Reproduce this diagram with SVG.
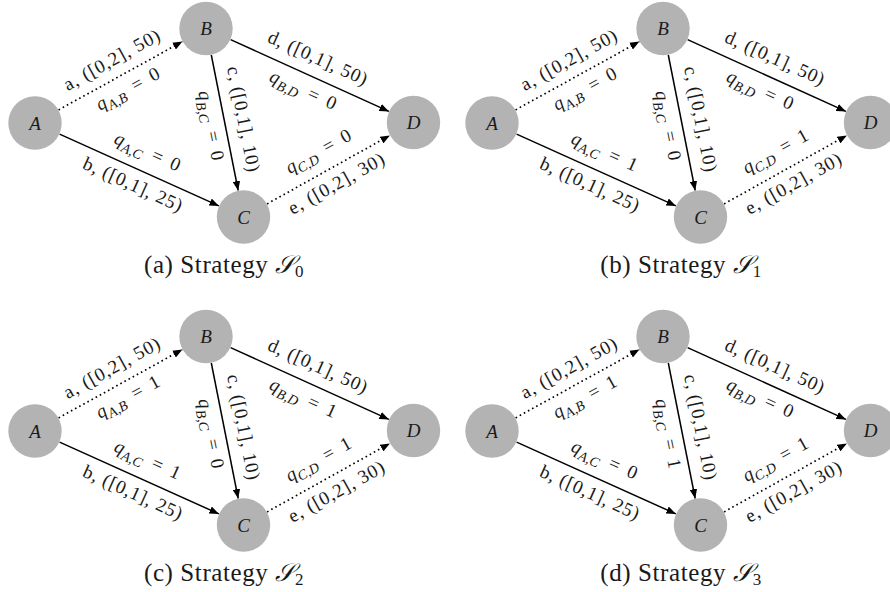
<svg xmlns="http://www.w3.org/2000/svg" width="890" height="592" viewBox="0 0 890 592">
<style>
.node{fill:#b3b3b3;stroke:none}
.nl{font-family:"Liberation Serif",serif;font-style:italic;font-size:19px;text-anchor:middle;fill:#1a1a1a}
.lbl{font-family:"Liberation Serif",serif;font-size:19px;text-anchor:middle;fill:#1a1a1a}
.it{font-style:italic}
.sub{font-size:14px;font-style:italic}
.solid{stroke:#000;stroke-width:1.5;fill:none;marker-end:url(#arr)}
.dot{stroke:#000;stroke-width:1.7;fill:none;stroke-dasharray:1.6 3.1;marker-end:url(#arr)}
.cap{font-family:"Liberation Serif",serif;font-size:25px;text-anchor:middle;fill:#1a1a1a;letter-spacing:0.6px}
.cal{font-family:"DejaVu Serif","DejaVu Sans","Noto Sans",serif;font-style:italic}
.cs{font-size:17px}
</style>
<defs>
<marker id="arr" markerUnits="userSpaceOnUse" viewBox="0 0 10 8" markerWidth="10" markerHeight="8" refX="9.5" refY="4" orient="auto"><path d="M0,0.2 L9.5,4 L0,7.8 z" fill="#000"/></marker>
</defs>

<!-- Panel (a) -->
<g id="panel-a">
<g id="a-connectors">
<path class="dot" d="M58.6,109.9 L182.4,41.6"/>
<path class="solid" d="M59.6,134.1 L218.9,205.9"/>
<path class="solid" d="M211.3,55 L238.2,190.5"/>
<path class="solid" d="M230.6,39.6 L388.9,111.4"/>
<path class="dot" d="M267.1,203.9 L389.9,135.4"/>
<text class="lbl" transform="translate(120.5,75.8) rotate(-28.93)" y="-12" textLength="107" lengthAdjust="spacing">a, ([0,2], 50)</text>
<text class="lbl" transform="translate(120.5,75.8) rotate(-28.93)" y="21"><tspan class="it">q</tspan><tspan class="sub" dx="0.5" dy="4.5">A,B</tspan><tspan dx="9.5" dy="-4.5">=</tspan><tspan dx="9.5">0</tspan></text>
<text class="lbl" transform="translate(139.3,170) rotate(24.27)" y="-14"><tspan class="it">q</tspan><tspan class="sub" dx="0.5" dy="4.5">A,C</tspan><tspan dx="9.5" dy="-4.5">=</tspan><tspan dx="9.5">0</tspan></text>
<text class="lbl" transform="translate(139.3,170) rotate(24.27)" y="22" textLength="107" lengthAdjust="spacing">b, ([0,1], 25)</text>
<text class="lbl" transform="translate(224.8,122.8) rotate(78.75)" y="-13" textLength="107" lengthAdjust="spacing">c, ([0,1], 10)</text>
<text class="lbl" transform="translate(224.8,122.8) rotate(78.75)" y="20"><tspan class="it">q</tspan><tspan class="sub" dx="0.5" dy="4.5">B,C</tspan><tspan dx="9.5" dy="-4.5">=</tspan><tspan dx="9.5">0</tspan></text>
<text class="lbl" transform="translate(309.8,75.5) rotate(24.37)" y="-13" textLength="107" lengthAdjust="spacing">d, ([0,1], 50)</text>
<text class="lbl" transform="translate(309.8,75.5) rotate(24.37)" y="22"><tspan class="it">q</tspan><tspan class="sub" dx="0.5" dy="4.5">B,D</tspan><tspan dx="9.5" dy="-4.5">=</tspan><tspan dx="9.5">0</tspan></text>
<text class="lbl" transform="translate(328.5,169.8) rotate(-29.07)" y="-15"><tspan class="it">q</tspan><tspan class="sub" dx="0.5" dy="4.5">C,D</tspan><tspan dx="9.5" dy="-4.5">=</tspan><tspan dx="9.5">0</tspan></text>
<text class="lbl" transform="translate(328.5,169.8) rotate(-29.07)" y="22" textLength="107" lengthAdjust="spacing">e, ([0,2], 30)</text>
</g>
<g id="a-A"><circle class="node" cx="35" cy="123" r="26.7"/><text class="nl" x="35" y="129.5">A</text></g>
<g id="a-B"><circle class="node" cx="206" cy="28.5" r="26.7"/><text class="nl" x="206" y="35">B</text></g>
<g id="a-C"><circle class="node" cx="243.5" cy="217" r="26.7"/><text class="nl" x="243.5" y="223.5">C</text></g>
<g id="a-D"><circle class="node" cx="413.5" cy="122.5" r="26.7"/><text class="nl" x="413.5" y="129">D</text></g>
<text class="cap" x="224" y="273">(a) Strategy <tspan class="cal">𝒮</tspan><tspan class="cs" dy="4">0</tspan></text>
</g>

<!-- Panel (b) -->
<g id="panel-b" transform="translate(457,0)">
<g id="b-connectors">
<path class="dot" d="M58.6,109.9 L182.4,41.6"/>
<path class="solid" d="M59.6,134.1 L218.9,205.9"/>
<path class="solid" d="M211.3,55 L238.2,190.5"/>
<path class="solid" d="M230.6,39.6 L388.9,111.4"/>
<path class="dot" d="M267.1,203.9 L389.9,135.4"/>
<text class="lbl" transform="translate(120.5,75.8) rotate(-28.93)" y="-12" textLength="107" lengthAdjust="spacing">a, ([0,2], 50)</text>
<text class="lbl" transform="translate(120.5,75.8) rotate(-28.93)" y="21"><tspan class="it">q</tspan><tspan class="sub" dx="0.5" dy="4.5">A,B</tspan><tspan dx="9.5" dy="-4.5">=</tspan><tspan dx="9.5">0</tspan></text>
<text class="lbl" transform="translate(139.3,170) rotate(24.27)" y="-14"><tspan class="it">q</tspan><tspan class="sub" dx="0.5" dy="4.5">A,C</tspan><tspan dx="9.5" dy="-4.5">=</tspan><tspan dx="9.5">1</tspan></text>
<text class="lbl" transform="translate(139.3,170) rotate(24.27)" y="22" textLength="107" lengthAdjust="spacing">b, ([0,1], 25)</text>
<text class="lbl" transform="translate(224.8,122.8) rotate(78.75)" y="-13" textLength="107" lengthAdjust="spacing">c, ([0,1], 10)</text>
<text class="lbl" transform="translate(224.8,122.8) rotate(78.75)" y="20"><tspan class="it">q</tspan><tspan class="sub" dx="0.5" dy="4.5">B,C</tspan><tspan dx="9.5" dy="-4.5">=</tspan><tspan dx="9.5">0</tspan></text>
<text class="lbl" transform="translate(309.8,75.5) rotate(24.37)" y="-13" textLength="107" lengthAdjust="spacing">d, ([0,1], 50)</text>
<text class="lbl" transform="translate(309.8,75.5) rotate(24.37)" y="22"><tspan class="it">q</tspan><tspan class="sub" dx="0.5" dy="4.5">B,D</tspan><tspan dx="9.5" dy="-4.5">=</tspan><tspan dx="9.5">0</tspan></text>
<text class="lbl" transform="translate(328.5,169.8) rotate(-29.07)" y="-15"><tspan class="it">q</tspan><tspan class="sub" dx="0.5" dy="4.5">C,D</tspan><tspan dx="9.5" dy="-4.5">=</tspan><tspan dx="9.5">1</tspan></text>
<text class="lbl" transform="translate(328.5,169.8) rotate(-29.07)" y="22" textLength="107" lengthAdjust="spacing">e, ([0,2], 30)</text>
</g>
<g id="b-A"><circle class="node" cx="35" cy="123" r="26.7"/><text class="nl" x="35" y="129.5">A</text></g>
<g id="b-B"><circle class="node" cx="206" cy="28.5" r="26.7"/><text class="nl" x="206" y="35">B</text></g>
<g id="b-C"><circle class="node" cx="243.5" cy="217" r="26.7"/><text class="nl" x="243.5" y="223.5">C</text></g>
<g id="b-D"><circle class="node" cx="413.5" cy="122.5" r="26.7"/><text class="nl" x="413.5" y="129">D</text></g>
<text class="cap" x="224" y="273">(b) Strategy <tspan class="cal">𝒮</tspan><tspan class="cs" dy="4">1</tspan></text>
</g>

<!-- Panel (c) -->
<g id="panel-c" transform="translate(0,308)">
<g id="c-connectors">
<path class="dot" d="M58.6,109.9 L182.4,41.6"/>
<path class="solid" d="M59.6,134.1 L218.9,205.9"/>
<path class="solid" d="M211.3,55 L238.2,190.5"/>
<path class="solid" d="M230.6,39.6 L388.9,111.4"/>
<path class="dot" d="M267.1,203.9 L389.9,135.4"/>
<text class="lbl" transform="translate(120.5,75.8) rotate(-28.93)" y="-12" textLength="107" lengthAdjust="spacing">a, ([0,2], 50)</text>
<text class="lbl" transform="translate(120.5,75.8) rotate(-28.93)" y="21"><tspan class="it">q</tspan><tspan class="sub" dx="0.5" dy="4.5">A,B</tspan><tspan dx="9.5" dy="-4.5">=</tspan><tspan dx="9.5">1</tspan></text>
<text class="lbl" transform="translate(139.3,170) rotate(24.27)" y="-14"><tspan class="it">q</tspan><tspan class="sub" dx="0.5" dy="4.5">A,C</tspan><tspan dx="9.5" dy="-4.5">=</tspan><tspan dx="9.5">1</tspan></text>
<text class="lbl" transform="translate(139.3,170) rotate(24.27)" y="22" textLength="107" lengthAdjust="spacing">b, ([0,1], 25)</text>
<text class="lbl" transform="translate(224.8,122.8) rotate(78.75)" y="-13" textLength="107" lengthAdjust="spacing">c, ([0,1], 10)</text>
<text class="lbl" transform="translate(224.8,122.8) rotate(78.75)" y="20"><tspan class="it">q</tspan><tspan class="sub" dx="0.5" dy="4.5">B,C</tspan><tspan dx="9.5" dy="-4.5">=</tspan><tspan dx="9.5">0</tspan></text>
<text class="lbl" transform="translate(309.8,75.5) rotate(24.37)" y="-13" textLength="107" lengthAdjust="spacing">d, ([0,1], 50)</text>
<text class="lbl" transform="translate(309.8,75.5) rotate(24.37)" y="22"><tspan class="it">q</tspan><tspan class="sub" dx="0.5" dy="4.5">B,D</tspan><tspan dx="9.5" dy="-4.5">=</tspan><tspan dx="9.5">1</tspan></text>
<text class="lbl" transform="translate(328.5,169.8) rotate(-29.07)" y="-15"><tspan class="it">q</tspan><tspan class="sub" dx="0.5" dy="4.5">C,D</tspan><tspan dx="9.5" dy="-4.5">=</tspan><tspan dx="9.5">1</tspan></text>
<text class="lbl" transform="translate(328.5,169.8) rotate(-29.07)" y="22" textLength="107" lengthAdjust="spacing">e, ([0,2], 30)</text>
</g>
<g id="c-A"><circle class="node" cx="35" cy="123" r="26.7"/><text class="nl" x="35" y="129.5">A</text></g>
<g id="c-B"><circle class="node" cx="206" cy="28.5" r="26.7"/><text class="nl" x="206" y="35">B</text></g>
<g id="c-C"><circle class="node" cx="243.5" cy="217" r="26.7"/><text class="nl" x="243.5" y="223.5">C</text></g>
<g id="c-D"><circle class="node" cx="413.5" cy="122.5" r="26.7"/><text class="nl" x="413.5" y="129">D</text></g>
<text class="cap" x="224" y="273">(c) Strategy <tspan class="cal">𝒮</tspan><tspan class="cs" dy="4">2</tspan></text>
</g>

<!-- Panel (d) -->
<g id="panel-d" transform="translate(457,308)">
<g id="d-connectors">
<path class="dot" d="M58.6,109.9 L182.4,41.6"/>
<path class="solid" d="M59.6,134.1 L218.9,205.9"/>
<path class="solid" d="M211.3,55 L238.2,190.5"/>
<path class="solid" d="M230.6,39.6 L388.9,111.4"/>
<path class="dot" d="M267.1,203.9 L389.9,135.4"/>
<text class="lbl" transform="translate(120.5,75.8) rotate(-28.93)" y="-12" textLength="107" lengthAdjust="spacing">a, ([0,2], 50)</text>
<text class="lbl" transform="translate(120.5,75.8) rotate(-28.93)" y="21"><tspan class="it">q</tspan><tspan class="sub" dx="0.5" dy="4.5">A,B</tspan><tspan dx="9.5" dy="-4.5">=</tspan><tspan dx="9.5">1</tspan></text>
<text class="lbl" transform="translate(139.3,170) rotate(24.27)" y="-14"><tspan class="it">q</tspan><tspan class="sub" dx="0.5" dy="4.5">A,C</tspan><tspan dx="9.5" dy="-4.5">=</tspan><tspan dx="9.5">0</tspan></text>
<text class="lbl" transform="translate(139.3,170) rotate(24.27)" y="22" textLength="107" lengthAdjust="spacing">b, ([0,1], 25)</text>
<text class="lbl" transform="translate(224.8,122.8) rotate(78.75)" y="-13" textLength="107" lengthAdjust="spacing">c, ([0,1], 10)</text>
<text class="lbl" transform="translate(224.8,122.8) rotate(78.75)" y="20"><tspan class="it">q</tspan><tspan class="sub" dx="0.5" dy="4.5">B,C</tspan><tspan dx="9.5" dy="-4.5">=</tspan><tspan dx="9.5">1</tspan></text>
<text class="lbl" transform="translate(309.8,75.5) rotate(24.37)" y="-13" textLength="107" lengthAdjust="spacing">d, ([0,1], 50)</text>
<text class="lbl" transform="translate(309.8,75.5) rotate(24.37)" y="22"><tspan class="it">q</tspan><tspan class="sub" dx="0.5" dy="4.5">B,D</tspan><tspan dx="9.5" dy="-4.5">=</tspan><tspan dx="9.5">0</tspan></text>
<text class="lbl" transform="translate(328.5,169.8) rotate(-29.07)" y="-15"><tspan class="it">q</tspan><tspan class="sub" dx="0.5" dy="4.5">C,D</tspan><tspan dx="9.5" dy="-4.5">=</tspan><tspan dx="9.5">1</tspan></text>
<text class="lbl" transform="translate(328.5,169.8) rotate(-29.07)" y="22" textLength="107" lengthAdjust="spacing">e, ([0,2], 30)</text>
</g>
<g id="d-A"><circle class="node" cx="35" cy="123" r="26.7"/><text class="nl" x="35" y="129.5">A</text></g>
<g id="d-B"><circle class="node" cx="206" cy="28.5" r="26.7"/><text class="nl" x="206" y="35">B</text></g>
<g id="d-C"><circle class="node" cx="243.5" cy="217" r="26.7"/><text class="nl" x="243.5" y="223.5">C</text></g>
<g id="d-D"><circle class="node" cx="413.5" cy="122.5" r="26.7"/><text class="nl" x="413.5" y="129">D</text></g>
<text class="cap" x="224" y="273">(d) Strategy <tspan class="cal">𝒮</tspan><tspan class="cs" dy="4">3</tspan></text>
</g>
</svg>
